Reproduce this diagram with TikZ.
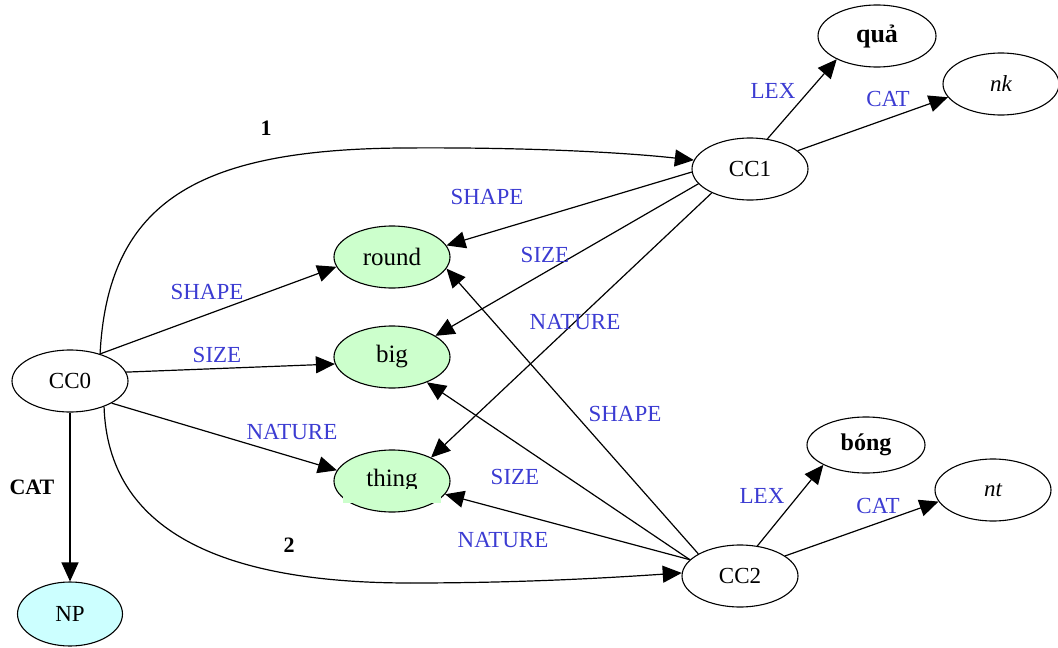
\documentclass[tikz,border=0pt]{standalone}
\usepackage{fontspec}
\setmainfont{Liberation Serif}
\usetikzlibrary{shapes.geometric,arrows.meta}
\definecolor{lblue}{RGB}{60,60,210}
\definecolor{lgreen}{RGB}{204,255,204}
\definecolor{lcyan}{RGB}{204,255,255}
\begin{document}
\begin{tikzpicture}[x=1pt,y=-1pt,
  every node/.style={font=\fontsize{23}{27}\selectfont},
  ell/.style={ellipse,draw,line width=1.1pt,inner sep=0pt,minimum width=116pt,minimum height=62pt},
  gell/.style={ell,fill=lgreen,font=\fontsize{25}{29}\selectfont},
  conn/.style={line width=1.2pt,-{Triangle[length=19pt,width=17pt]}},
  lbl/.style={text=lblue,inner sep=0pt},
  blbl/.style={font=\fontsize{22}{26}\selectfont\bfseries,inner sep=0pt}]
\useasboundingbox (0,0) rectangle (1058,648);
% nodes
\node[ell] (cc0) at (70,381) {CC0};
\node[ell,fill=lcyan,minimum width=105pt,minimum height=64pt] (np) at (70,614) {NP};
\node[gell] (round) at (392,257) {round};
\node[gell] (big) at (392,357) {big};
\node[gell] (thing) at (392,481) {thing};
\fill[lgreen] (343,489) rectangle (441,503);
\node[ell] (cc1) at (750,169) {CC1};
\node[ell,minimum width=118pt,font=\fontsize{26}{30}\selectfont\bfseries] (qua) at (877,36) {quả};
\node[ell] (nk) at (1001,84) {\itshape nk};
\node[ell] (cc2) at (740,576) {CC2};
\node[ell,minimum width=118pt,minimum height=56pt,font=\fontsize{24}{28}\selectfont\bfseries] (bong) at (866,445) {bóng};
\node[ell] (nt) at (993,490) {\itshape nt};
% CC0 edges
\draw[line width=1.2pt] (cc0.42) .. controls (108,200) and (200,150) .. (400,148) coordinate (m1);
\draw[conn] (m1) .. controls (520,147) and (620,152) .. (cc1.171);
\draw[line width=1.2pt] (cc0.323) .. controls (108,530) and (220,583) .. (410,583) coordinate (m2);
\draw[conn] (m2) .. controls (530,583) and (620,577) .. (cc2.177);
\draw[conn] (cc0.42) -- (round.190);
\draw[conn] (cc0.9) -- (big.187);
\draw[conn] (cc0.332) -- (thing.169);
\draw[conn] (cc0.south) -- (np.north);
% CC1 edges
\draw[conn] (cc1.60) -- (qua.210);
\draw[conn] (cc1.21) -- (nk.194);
\draw[conn] (cc1.183) -- (round.12);
\draw[conn] (cc1.196) -- (big.26);
\draw[conn] (cc1.212) -- (thing.31);
% CC2 edges
\draw[conn] (cc2.152) -- (round.348);
\draw[conn] (cc2.162) -- (big.324);
\draw[conn] (cc2.162) -- (thing.346);
\draw[conn] (cc2.60) -- (bong.205);
\draw[conn] (cc2.24) -- (nt.192);
% labels
\node[blbl] (l1) at (266,128) {1};
\node[blbl] (l2) at (289,545) {2};
\node[blbl] (lcat0) at (32,487) {CAT};
\node[lbl] (ls0) at (207,292) {SHAPE};
\node[lbl] (lz0) at (217,355) {SIZE};
\node[lbl] (ln0) at (292,432) {NATURE};
\node[lbl] (lx1) at (773,91) {LEX};
\node[lbl] (lc1) at (888,99) {CAT};
\node[lbl] (ls1) at (487,197) {SHAPE};
\node[lbl] (lz1) at (545,255) {SIZE};
\node[lbl] (ln1) at (575,322) {NATURE};
\node[lbl] (ls2) at (625,414) {SHAPE};
\node[lbl] (lz2) at (515,477) {SIZE};
\node[lbl] (ln2) at (503,540) {NATURE};
\node[lbl] (lx2) at (762,496) {LEX};
\node[lbl] (lc2) at (878,506) {CAT};
\end{tikzpicture}
\end{document}
